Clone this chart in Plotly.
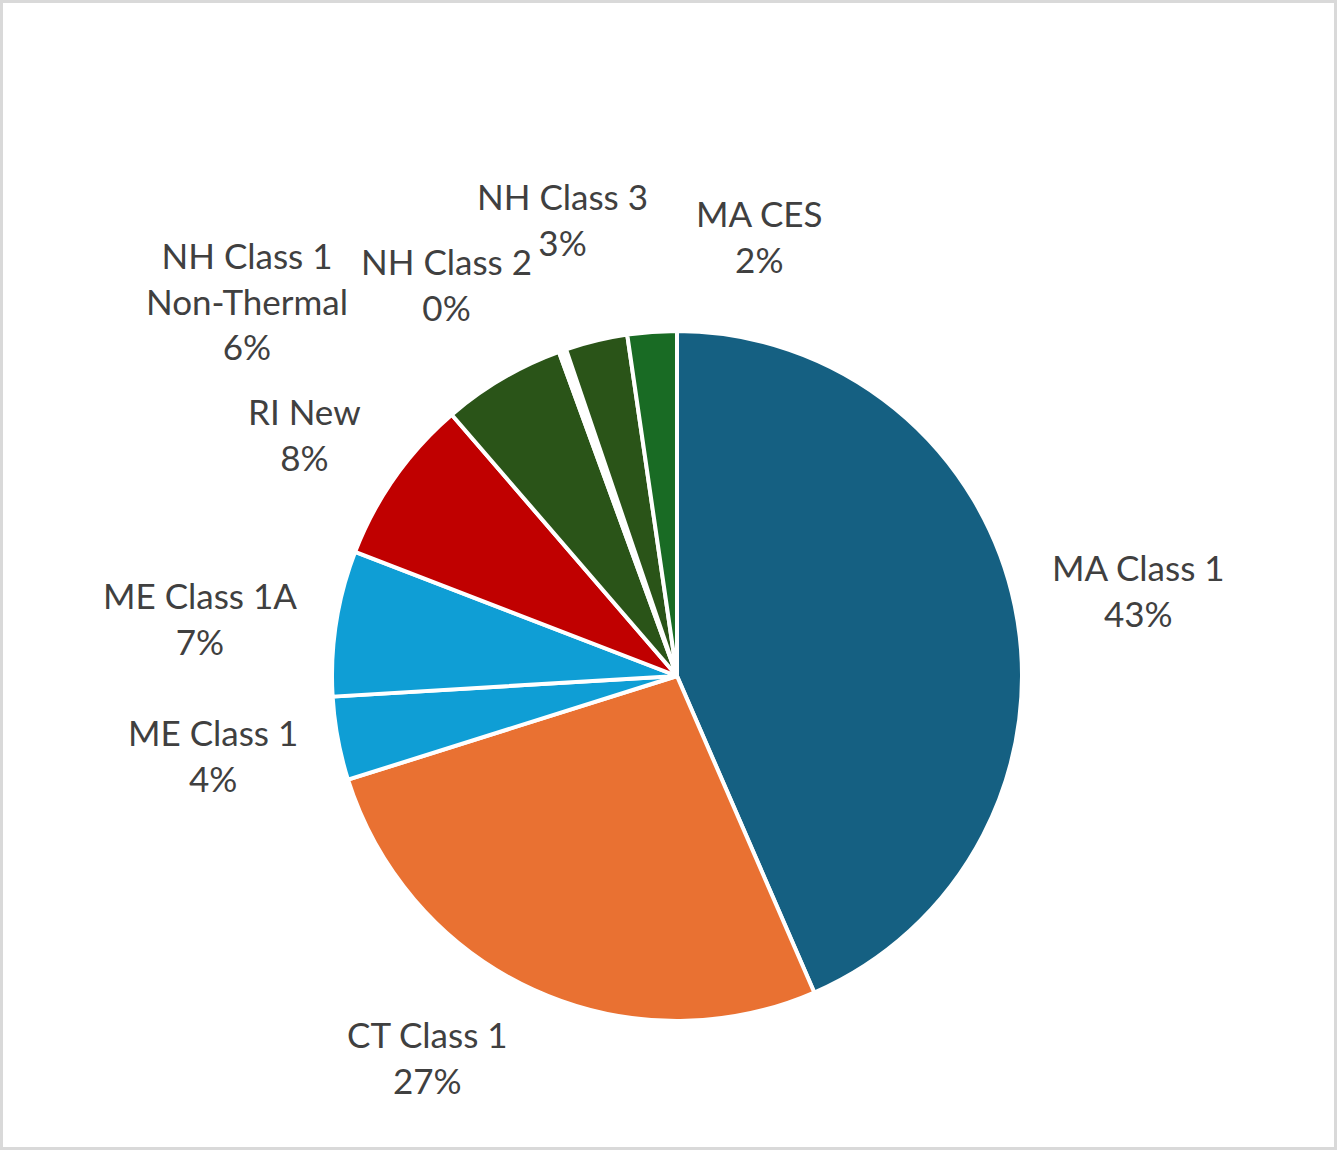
import plotly.graph_objects as go

# Data
categories = ["MA Class 1", "CT Class 1", "ME Class 1", "ME Class 1A", "RI New",
              "NH Class 1<br>Non-Thermal", "NH Class 2", "NH Class 3", "MA CES"]
values = [43.4, 26.6, 3.9, 6.8, 7.8, 5.75, 0.35, 2.9, 2.3]
colors = ["#156082", "#E97132", "#0F9ED5", "#0F9ED5", "#C00000",
          "#2A5418", "#FFFFFF", "#2A5418", "#196B24"]

# Label anchor positions (pixels in the 1337x1150 canvas)
label_px = [(1138, 590), (427, 1057), (213, 755), (200, 618), (304, 434),
            (247, 300), (446, 284), (562, 219), (760, 236)]

W, H = 1337, 1150
cx, cy, r = 677, 676, 345

total = sum(values)
pcts = [round(v / total * 100) for v in values]

fig = go.Figure(go.Pie(
    labels=categories,
    values=values,
    sort=False,
    direction="clockwise",
    rotation=0,
    marker=dict(colors=colors, line=dict(color="white", width=4)),
    textinfo="none",
    hoverinfo="label+percent",
    showlegend=False,
    domain=dict(x=[(cx - r) / W, (cx + r) / W], y=[1 - (cy + r) / H, 1 - (cy - r) / H]),
))

for (lx, ly), cat, p in zip(label_px, categories, pcts):
    fig.add_annotation(
        x=lx / W, y=1 - ly / H, xref="paper", yref="paper",
        text=f"{cat}<br>{p}%", showarrow=False,
        xanchor="center", yanchor="middle", align="center",
        font=dict(family="Lato, Open Sans, sans-serif", size=35, color="#404040"),
    )

fig.add_shape(type="rect", xref="paper", yref="paper",
              x0=1.5 / W, x1=1 - 1.5 / W, y0=1.5 / H, y1=1 - 1.5 / H,
              line=dict(color="#D9D9D9", width=3))

fig.update_layout(
    width=W, height=H,
    margin=dict(l=0, r=0, t=0, b=0),
    paper_bgcolor="white", plot_bgcolor="white",
)

fig.write_html("out.html",
               config={"displayModeBar": False},
               post_script="document.body.style.margin='0';document.body.style.overflow='hidden';")
